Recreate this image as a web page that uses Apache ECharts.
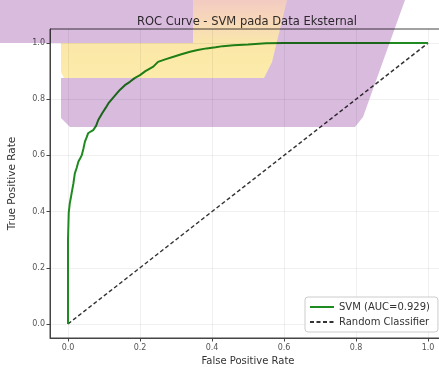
<!DOCTYPE html>
<html><head><meta charset="utf-8">
<script src="https://cdn.jsdelivr.net/npm/echarts@6/dist/echarts.min.js"></script>
<style>html,body{margin:0;padding:0;background:#fff}#c{width:439px;height:370px}</style>
</head><body><div id="c"></div>
<script>
const titleText = 'ROC Curve - SVM pada Data Eksternal';
const svmName = 'SVM (AUC=0.929)';
const randName = 'Random Classifier';
const fpr = [0, 0, 0.002, 0.005, 0.008, 0.01, 0.015, 0.019, 0.024, 0.029, 0.034, 0.038, 0.043, 0.047, 0.052, 0.056, 0.063, 0.07, 0.078, 0.084, 0.095, 0.105, 0.112, 0.125, 0.135, 0.144, 0.158, 0.172, 0.185, 0.2, 0.215, 0.237, 0.25, 0.27, 0.293, 0.315, 0.339, 0.36, 0.385, 0.41, 0.43, 0.46, 0.5, 0.55, 0.6, 0.7, 0.8, 0.9, 1.0];
const tpr = [0, 0.3, 0.395, 0.43, 0.45, 0.465, 0.5, 0.536, 0.555, 0.578, 0.59, 0.6, 0.625, 0.649, 0.665, 0.679, 0.685, 0.69, 0.705, 0.726, 0.75, 0.77, 0.785, 0.805, 0.82, 0.833, 0.85, 0.862, 0.875, 0.886, 0.9, 0.916, 0.933, 0.942, 0.951, 0.96, 0.969, 0.975, 0.981, 0.985, 0.989, 0.992, 0.995, 0.999, 1, 1, 1, 1, 1];
const diagX = [0, 1];
const diagY = [0, 1];
const tickValues = [0, 0.2, 0.4, 0.6, 0.8, 1.0];

const FONT = 'DejaVu Sans';
const chart = echarts.init(document.getElementById('c'), null, {renderer: 'canvas'});

const purple = '#d9bbde';
const yellowGrad = new echarts.graphic.LinearGradient(0, 0, 0, 1, [
  {offset: 0, color: '#f3cbc2'},
  {offset: 0.35, color: '#f8dcb6'},
  {offset: 0.6, color: '#fbe8a8'},
  {offset: 1, color: '#fcebaa'}
]);

function axisCommon(name, gap) {
  return {
    type: 'value', min: -0.05, max: 1.05,
    name: name, nameLocation: 'middle', nameGap: gap,
    nameTextStyle: {fontSize: 10, color: '#333', fontFamily: FONT},
    axisLine: {show: true, onZero: false, lineStyle: {color: '#444', width: 1}},
    axisTick: {show: true, customValues: tickValues, length: 3.5, lineStyle: {color: '#444'}},
    axisLabel: {customValues: tickValues, formatter: v => v.toFixed(1), fontSize: 8, color: '#555', fontFamily: FONT},
    splitLine: {show: true, lineStyle: {color: 'rgba(0,0,0,0.06)', width: 1}}
  };
}

const xa = axisCommon('False Positive Rate', 17);
xa.axisLabel.margin = 6;
const ya = axisCommon('True Positive Rate', 32);
ya.axisLabel.margin = 5;
ya.nameTextStyle.fontSize = 10.5;

chart.setOption({
  animation: false,
  backgroundColor: '#fff',
  title: {
    text: titleText, left: 242, top: 11, textAlign: 'center',
    textStyle: {fontSize: 11.5, fontWeight: 'normal', color: '#333', fontFamily: FONT}
  },
  grid: {left: 50, right: -7, top: 29, bottom: 32, show: true, borderColor: '#444', borderWidth: 1, containLabel: false, outerBoundsMode: 'none'},
  xAxis: xa,
  yAxis: ya,
  legend: {
    orient: 'vertical', left: 305, top: 297,
    data: [svmName, randName],
    itemWidth: 24, itemHeight: 8, itemGap: 5,
    itemStyle: {opacity: 0},
    textStyle: {fontSize: 10, color: '#333', fontFamily: FONT},
    backgroundColor: 'rgba(255,255,255,0.85)', borderColor: '#ccc', borderWidth: 1, borderRadius: 3,
    padding: [5, 8, 5, 4]
  },
  series: [
    {
      name: svmName, type: 'line', symbol: 'none', showSymbol: false,
      data: fpr.map((x, i) => [x, tpr[i]]),
      lineStyle: {color: '#1f8a1f', width: 2}, itemStyle: {color: '#1f8a1f'}, z: 3
    },
    {
      name: randName, type: 'line', symbol: 'none', showSymbol: false,
      data: diagX.map((x, i) => [x, diagY[i]]),
      lineStyle: {color: '#333', width: 1.5, type: [4, 2.5]}, itemStyle: {color: '#333'}, z: 2
    }
  ],
  graphic: {elements: [
    {type: 'polygon', silent: true, z: 100, shape: {points: [[0,0],[193,0],[193,43],[0,43]]}, style: {fill: purple, blend: 'multiply'}},
    {type: 'polygon', silent: true, z: 100, shape: {points: [[61,78],[264,78],[272,62],[287,0],[405,0],[363,117],[355,127],[70,127],[61,118]]}, style: {fill: purple, blend: 'multiply'}},
    {type: 'polygon', silent: true, z: 100, shape: {points: [[193,0],[287,0],[272,62],[264,78],[64,78],[61,72],[61,43],[193,43]]}, style: {fill: yellowGrad, blend: 'multiply'}}
  ]}
});
</script>
</body></html>
